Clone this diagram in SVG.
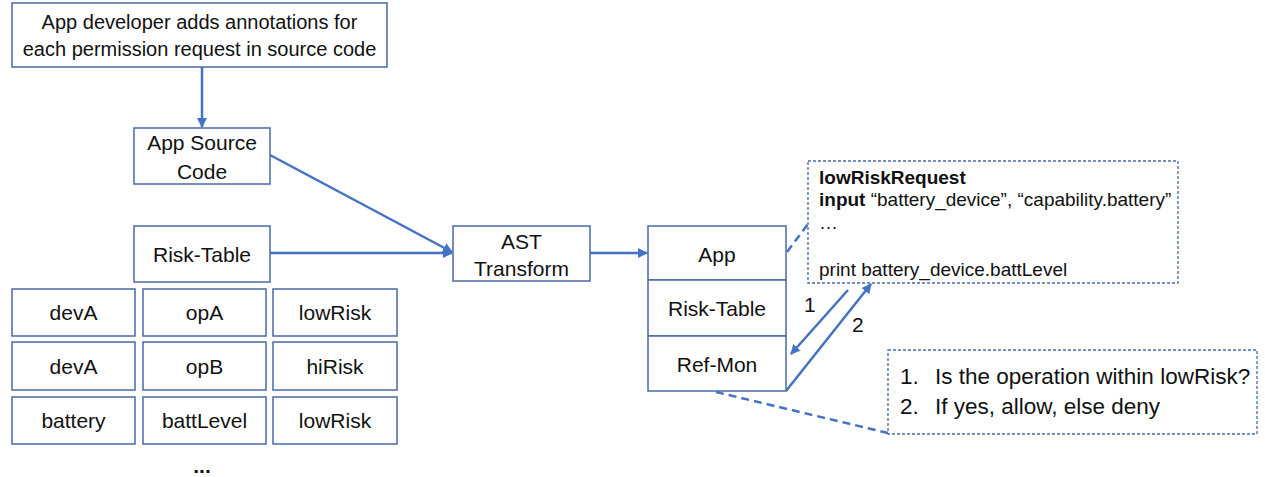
<svg xmlns="http://www.w3.org/2000/svg" width="1265" height="477" viewBox="0 0 1265 477">
<defs>
<style>
.box{fill:#fff;stroke:#4a6aa5;stroke-width:1.5}
.dbox{fill:#fff;stroke:#4a6aa5;stroke-width:1.3;stroke-dasharray:3 2}
.t{font-family:"Liberation Sans",Arial,sans-serif;font-size:21px;fill:#111;text-anchor:middle}
.c{font-family:"Liberation Sans",Arial,sans-serif;font-size:19px;fill:#111}
.l{font-family:"Liberation Sans",Arial,sans-serif;font-size:21px;fill:#111}
.k{font-family:"Liberation Sans",Arial,sans-serif;font-size:22.5px;fill:#111}
.a{stroke:#4472c4;stroke-width:2.5;fill:none}
.d{stroke:#4472c4;stroke-width:2.5;fill:none;stroke-dasharray:8 5}
</style>
<marker id="ah" viewBox="0 0 10 10" refX="9" refY="5" markerWidth="4" markerHeight="4" orient="auto" markerUnits="strokeWidth">
<path d="M0,0 L10,5 L0,10 z" fill="#4472c4"/>
</marker>
</defs>
<rect width="1265" height="477" fill="#fff"/>

<g id="connectors">
<line class="a" x1="202" y1="67" x2="202" y2="127" marker-end="url(#ah)"/>
<line class="a" x1="270" y1="155" x2="452" y2="252" marker-end="url(#ah)"/>
<line class="a" x1="270" y1="253" x2="452" y2="253" marker-end="url(#ah)"/>
<line class="a" x1="590" y1="253" x2="647" y2="253" marker-end="url(#ah)"/>
<line class="d" x1="787" y1="252" x2="808" y2="224"/>
<line class="a" x1="848" y1="290" x2="791" y2="354" marker-end="url(#ah)"/>
<line class="a" x1="786" y1="391" x2="871" y2="284" marker-end="url(#ah)"/>
<line class="d" x1="716" y1="392" x2="888" y2="433"/>
</g>

<g id="top">
<rect class="box" x="12" y="3" width="375" height="64"/>
<text class="t" x="199.5" y="29" style="font-size:20px">App developer adds annotations for</text>
<text class="t" x="199.5" y="56" style="font-size:20px">each permission request in source code</text>
</g>

<g id="appsource">
<rect class="box" x="134" y="128" width="136" height="56"/>
<text class="t" x="202" y="150">App Source</text>
<text class="t" x="202" y="179">Code</text>
</g>

<g id="risktable">
<rect class="box" x="134" y="226" width="136" height="56"/>
<text class="t" x="202" y="262">Risk-Table</text>
</g>

<g id="table">
<rect class="box" x="12" y="289" width="123" height="47"/>
<text class="t" x="73.5" y="320">devA</text>
<rect class="box" x="143" y="289" width="123" height="47"/>
<text class="t" x="204.5" y="320">opA</text>
<rect class="box" x="273" y="289" width="124" height="47"/>
<text class="t" x="335" y="320">lowRisk</text>
<rect class="box" x="12" y="342" width="123" height="48"/>
<text class="t" x="73.5" y="374">devA</text>
<rect class="box" x="143" y="342" width="123" height="48"/>
<text class="t" x="204.5" y="374">opB</text>
<rect class="box" x="273" y="342" width="124" height="48"/>
<text class="t" x="335" y="374">hiRisk</text>
<rect class="box" x="12" y="397" width="123" height="47"/>
<text class="t" x="73.5" y="428">battery</text>
<rect class="box" x="143" y="397" width="123" height="47"/>
<text class="t" x="204.5" y="428">battLevel</text>
<rect class="box" x="273" y="397" width="124" height="47"/>
<text class="t" x="335" y="428">lowRisk</text>
<text class="t" x="202" y="473" style="font-weight:bold">...</text>
</g>

<g id="ast">
<rect class="box" x="453" y="226" width="137" height="55"/>
<text class="t" x="521.5" y="249">AST</text>
<text class="t" x="521.5" y="276">Transform</text>
</g>

<g id="stack">
<rect class="box" x="648" y="226" width="138" height="54"/>
<text class="t" x="717" y="262">App</text>
<rect class="box" x="648" y="280" width="138" height="56"/>
<text class="t" x="717" y="316">Risk-Table</text>
<rect class="box" x="648" y="336" width="138" height="55"/>
<text class="t" x="717" y="372">Ref-Mon</text>
</g>

<g id="code">
<rect class="dbox" x="808" y="161" width="370" height="122"/>
<text class="c" x="819" y="184" font-weight="bold">lowRiskRequest</text>
<text class="c" x="819" y="206"><tspan font-weight="bold">input</tspan> “battery_device”, “capability.battery”</text>
<text class="c" x="819" y="229">…</text>
<text class="c" x="819" y="276">print battery_device.battLevel</text>
</g>

<g id="labels">
<text class="l" x="804" y="312">1</text>
<text class="l" x="852" y="332">2</text>
</g>

<g id="check">
<rect class="dbox" x="888" y="350" width="369" height="84"/>
<text class="k" x="900" y="384">1.</text>
<text class="k" x="935" y="384">Is the operation within lowRisk?</text>
<text class="k" x="900" y="414">2.</text>
<text class="k" x="935" y="414">If yes, allow, else deny</text>
</g>
</svg>
